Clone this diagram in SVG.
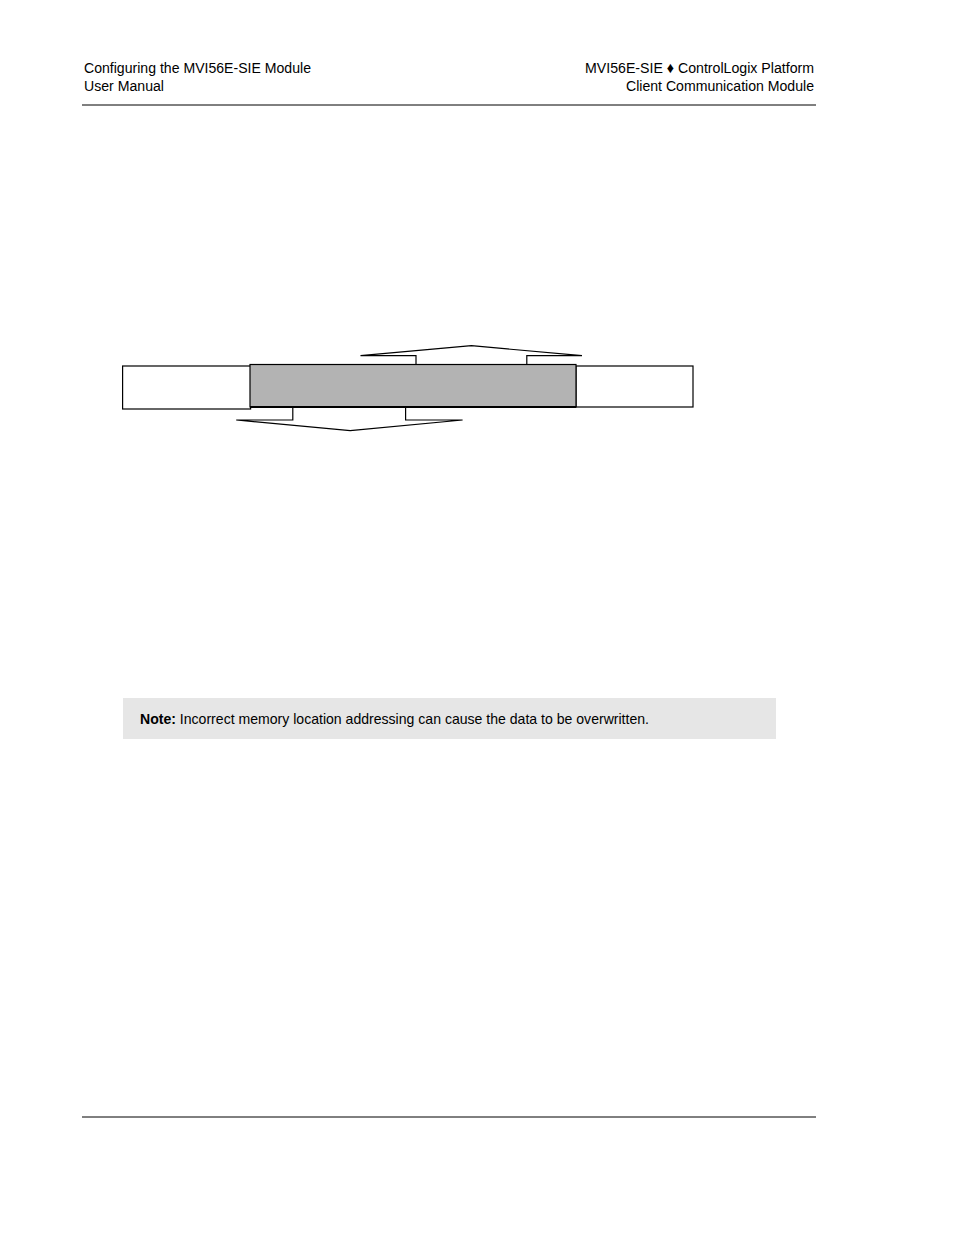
<svg xmlns="http://www.w3.org/2000/svg" width="954" height="1235" viewBox="0 0 954 1235">
<style>
.hdr{font-family:"Liberation Sans Narrow","Liberation Sans",Arial,sans-serif;font-size:15.5px;fill:#000}
.note{font-family:"Liberation Sans Narrow","Liberation Sans",Arial,sans-serif;font-size:15px;fill:#000}
.box{fill:#fff;stroke:#000;stroke-width:1.2}
.arr{fill:none;stroke:#000;stroke-width:1.2;stroke-linejoin:miter}
</style>
<rect width="954" height="1235" fill="#fff"/>
<g id="header">
<text class="hdr" x="84" y="73" textLength="227" lengthAdjust="spacingAndGlyphs">Configuring the MVI56E-SIE Module</text>
<text class="hdr" x="84" y="91" textLength="80" lengthAdjust="spacingAndGlyphs">User Manual</text>
<text class="hdr" x="814" y="73" text-anchor="end" textLength="229" lengthAdjust="spacingAndGlyphs">MVI56E-SIE ♦ ControlLogix Platform</text>
<text class="hdr" x="814" y="91" text-anchor="end" textLength="188" lengthAdjust="spacingAndGlyphs">Client Communication Module</text>
<line x1="82" y1="105" x2="816" y2="105" stroke="#000" stroke-width="1"/>
</g>
<g id="left-box"><rect class="box" x="122.6" y="366" width="128" height="43"/></g>
<g id="right-box"><rect class="box" x="576" y="366" width="117" height="41" stroke="#333"/></g>
<g id="middle-box">
<rect x="250" y="364.5" width="326" height="42.5" fill="#b3b3b3" stroke="#000" stroke-width="1.2"/>
<line x1="250" y1="407" x2="576" y2="407" stroke="#000" stroke-width="2"/>
</g>
<g id="connectors">
<polyline class="arr" points="416,364.5 416,355.7 360.5,355.7 471.4,345.7 582,355.7 526.8,355.7 526.8,364.5"/>
<polyline class="arr" points="292.8,408 292.8,420 236.2,420 350.2,430.7 462.6,420 405.6,420 405.6,408"/>
</g>
<g id="note">
<rect x="123" y="698" width="653" height="41" fill="#e6e6e6"/>
<text class="note" x="140" y="723.5" textLength="509" lengthAdjust="spacingAndGlyphs"><tspan font-weight="bold">Note:</tspan> Incorrect memory location addressing can cause the data to be overwritten.</text>
</g>
<g id="footer">
<line x1="82" y1="1117" x2="816" y2="1117" stroke="#000" stroke-width="1"/>
</g>
</svg>
